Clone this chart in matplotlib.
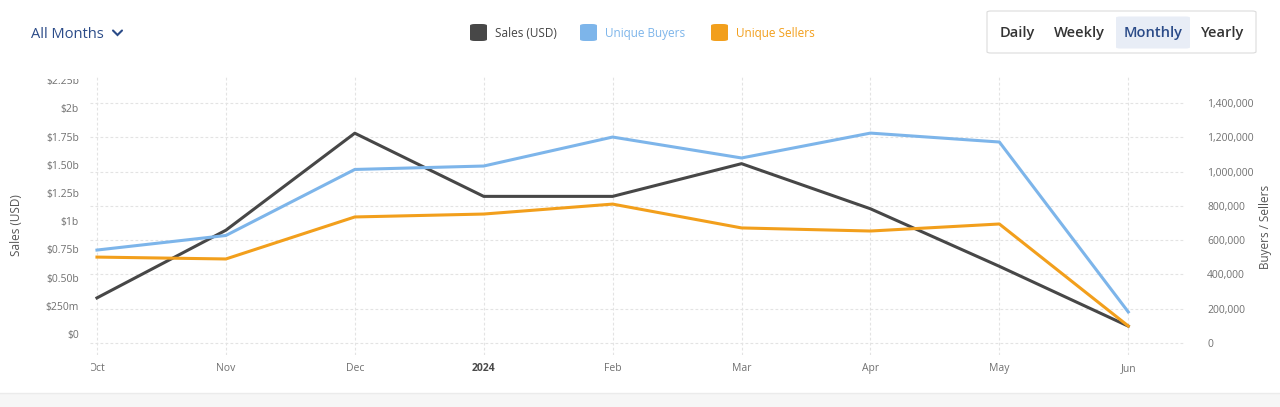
import matplotlib
matplotlib.use("Agg")
import matplotlib.pyplot as plt
from matplotlib.patches import FancyBboxPatch, Rectangle
from matplotlib.transforms import Bbox, TransformedBbox

plt.rcParams['font.family'] = ['Open Sans', 'DejaVu Sans']

months = ["Oct", "Nov", "Dec", "2024", "Feb", "Mar", "Apr", "May", "Jun"]
sales_b = [0.32, 0.92, 1.78, 1.22, 1.22, 1.51, 1.11, 0.60, 0.07]
buyers = [542000, 627000, 1012000, 1032000, 1201000, 1079000, 1224000, 1172000, 181000]
sellers = [501000, 490000, 735000, 752000, 810000, 671000, 653000, 694000, 99000]

sales_ticks = [0, 0.25, 0.5, 0.75, 1.0, 1.25, 1.5, 1.75, 2.0, 2.25]
sales_labels = ["$0", "$250m", "$0.50b", "$0.75b", "$1b", "$1.25b", "$1.50b", "$1.75b", "$2b", "$2.25b"]
count_ticks = [0, 200000, 400000, 600000, 800000, 1000000, 1200000, 1400000]

C_SALES = "#474747"
C_BUY = "#7db5ea"
C_SELL = "#f29f1c"
GRID = "#e3e3e3"
TICK = "#707070"

W, H = 1280, 407
fig = plt.figure(figsize=(W / 100, H / 100), dpi=100)

x0, x1 = 90, 1185
ytop, ybot = 76, 355
ax = fig.add_axes([x0 / W, 1 - ybot / H, (x1 - x0) / W, (ybot - ytop) / H])
ax2 = ax.twinx()

xs = list(range(len(months)))
ax.set_xlim(-0.054, 8.44)
ax.set_ylim(-0.186, 2.287)
ax2.set_ylim(-70000, 1557000)

# all lines drawn on the top axes so grid stays beneath; sales uses left scale
ax2.plot(xs, sales_b, color=C_SALES, lw=2.2, transform=ax.transData, zorder=3)
ax2.plot(xs, buyers, color=C_BUY, lw=2.2, zorder=4)
ax2.plot(xs, sellers, color=C_SELL, lw=2.2, zorder=5)

for a in (ax, ax2):
    for s in a.spines.values():
        s.set_visible(False)

ax.set_xticks(xs)
ax.set_xticklabels(months)
ax.tick_params(axis="x", length=0, pad=6, labelsize=7.5, labelcolor=TICK)
for lbl in ax.get_xticklabels():
    if lbl.get_text() == "2024":
        lbl.set_fontweight("bold")
        lbl.set_color("#4a4a4a")
ax.xaxis.grid(True, color=GRID, ls=(0, (2.5, 2)), lw=0.8)

ax.set_yticks(sales_ticks)
ax.set_yticklabels(sales_labels)
ax.tick_params(axis="y", length=0, pad=8, labelsize=7.5, labelcolor=TICK)
ax.yaxis.grid(False)

ax2.set_yticks(count_ticks)
ax2.set_yticklabels([f"{v:,}" for v in count_ticks])
ax2.tick_params(axis="y", length=0, pad=16, labelsize=7.5, labelcolor=TICK)
ax2.yaxis.grid(True, color=GRID, ls=(0, (2.5, 2)), lw=0.8)
ax2.set_axisbelow(True)
ax.set_axisbelow(True)

# clip like the reference: top of left labels, left of the first x label
clip_top = TransformedBbox(Bbox([[0, 0], [1, 1 - 78.5 / H]]), fig.transFigure)
for lbl in ax.get_yticklabels():
    lbl.set_clip_box(clip_top)
    lbl.set_clip_on(True)
clip_left = TransformedBbox(Bbox([[91 / W, 0], [1, 1]]), fig.transFigure)
for lbl in ax.get_xticklabels():
    lbl.set_clip_box(clip_left)
    lbl.set_clip_on(True)

fig.text(16 / W, 1 - 225 / H, "Sales (USD)", rotation=90, ha="center", va="center",
         fontsize=8.5, color="#555555")
fig.text(1266 / W, 1 - 227 / H, "Buyers / Sellers", rotation=90, ha="center", va="center",
         fontsize=8.5, color="#555555")

# header: All Months
fig.text(31 / W, 1 - 34.5 / H, "All Months", ha="left", va="center", fontsize=10.5,
         color="#2b4b88")
fig.lines.append(plt.Line2D([113 / W, 117.5 / W, 122 / W],
                            [1 - 30.5 / H, 1 - 35 / H, 1 - 30.5 / H],
                            transform=fig.transFigure, color="#2b4b88", lw=1.5,
                            solid_capstyle="round", solid_joinstyle="miter"))

# legend
leg = [("Sales (USD)", C_SALES, "#444444", 470), ("Unique Buyers", C_BUY, C_BUY, 580),
       ("Unique Sellers", C_SELL, C_SELL, 711)]
for name, col, tcol, px in leg:
    fig.patches.append(FancyBboxPatch((px / W, 1 - 41 / H), 17 / W, 17 / H,
                                      boxstyle="round,pad=0,rounding_size=0.004",
                                      transform=fig.transFigure, fc=col, ec="none"))
    fig.text((px + 25) / W, 1 - 33.5 / H, name, ha="left", va="center", fontsize=8.5,
             color=tcol)

# button group
fig.patches.append(FancyBboxPatch((987 / W, 1 - 53 / H), 269 / W, 42 / H,
                                  boxstyle="round,pad=0,rounding_size=0.003",
                                  transform=fig.transFigure, fc="white", ec="#dcdcdc", lw=0.8))
fig.patches.append(FancyBboxPatch((1116 / W, 1 - 48.5 / H), 74 / W, 32 / H,
                                  boxstyle="round,pad=0,rounding_size=0.003",
                                  transform=fig.transFigure, fc="#e8edf6", ec="none"))
for name, cx, col in [("Daily", 1017, "#333333"), ("Weekly", 1079.5, "#333333"),
                      ("Monthly", 1153, "#2b4b88"), ("Yearly", 1223, "#333333")]:
    fig.text(cx / W, 1 - 33.5 / H, name, ha="center", va="center", fontsize=10.5,
             color=col, fontweight="semibold")

# bottom band
fig.patches.append(Rectangle((0, 0), 1, 14 / H, transform=fig.transFigure,
                             fc="#f6f6f6", ec="none"))
fig.lines.append(plt.Line2D([0, 1], [14 / H, 14 / H], transform=fig.transFigure,
                            color="#ebebeb", lw=1))

fig.savefig("out.png", dpi=100, facecolor="white")
